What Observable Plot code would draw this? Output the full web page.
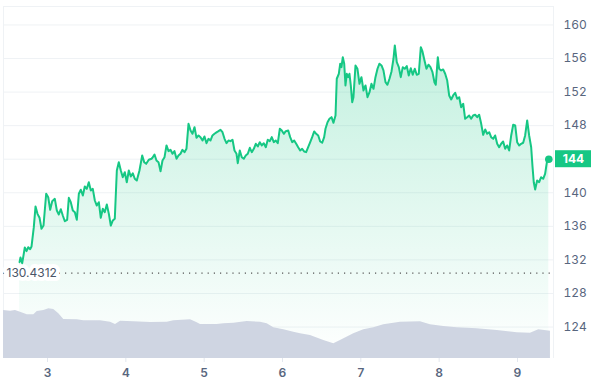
<!DOCTYPE html>
<html><head><meta charset="utf-8">
<script src="https://cdn.jsdelivr.net/npm/d3@7"></script>
<script src="https://cdn.jsdelivr.net/npm/@observablehq/plot@0.6"></script>
<style>
body{margin:0;background:#fff;}
#chart{position:relative;width:591px;height:379px;overflow:hidden;}
#chart svg{position:absolute;left:0;top:0;}
</style></head><body><div id="chart"></div>
<script>
// ---- data (x = day of month, y = price) ----
const priceDays = [
2.643,2.655,2.677,2.710,2.732,2.754,2.779,2.796,2.825,2.847,
2.872,2.898,2.923,2.949,2.983,3.009,3.034,3.060,3.093,3.119,
3.144,3.170,3.195,3.221,3.251,3.272,3.297,3.323,3.349,3.374,
3.400,3.425,3.451,3.476,3.502,3.527,3.553,3.578,3.604,3.629,
3.655,3.680,3.706,3.731,3.757,3.783,3.808,3.834,3.859,3.885,
3.910,3.936,3.961,3.987,4.012,4.038,4.063,4.089,4.114,4.140,
4.174,4.209,4.234,4.260,4.293,4.328,4.340,4.366,4.391,4.417,
4.443,4.468,4.494,4.519,4.545,4.570,4.596,4.621,4.647,4.672,
4.698,4.723,4.749,4.774,4.800,4.826,4.851,4.877,4.902,4.928,
4.953,4.979,5.004,5.030,5.055,5.081,5.106,5.132,5.157,5.183,
5.209,5.234,5.260,5.285,5.311,5.336,5.362,5.387,5.413,5.429,
5.455,5.480,5.506,5.531,5.557,5.583,5.608,5.634,5.659,5.685,
5.710,5.736,5.761,5.787,5.812,5.838,5.863,5.889,5.914,5.940,
5.966,5.991,6.017,6.042,6.073,6.098,6.124,6.149,6.175,6.200,
6.226,6.251,6.277,6.302,6.328,6.354,6.379,6.405,6.430,6.456,
6.481,6.507,6.532,6.549,6.575,6.600,6.626,6.651,6.677,6.693,
6.719,6.737,6.753,6.770,6.788,6.804,6.821,6.839,6.855,6.872,
6.890,6.906,6.932,6.957,6.983,7.008,7.034,7.060,7.085,7.111,
7.136,7.162,7.187,7.213,7.238,7.264,7.289,7.315,7.340,7.366,
7.392,7.417,7.434,7.459,7.485,7.510,7.536,7.561,7.587,7.612,
7.638,7.663,7.689,7.714,7.740,7.766,7.787,7.813,7.838,7.864,
7.889,7.915,7.940,7.957,7.983,8.000,8.026,8.051,8.077,8.103,
8.128,8.154,8.179,8.205,8.230,8.256,8.281,8.307,8.332,8.358,
8.383,8.409,8.434,8.460,8.486,8.511,8.537,8.562,8.588,8.613,
8.639,8.664,8.690,8.715,8.741,8.766,8.792,8.817,8.843,8.868,
8.894,8.920,8.945,8.971,8.996,9.022,9.047,9.073,9.098,9.124,
9.149,9.175,9.191,9.208,9.226,9.251,9.277,9.302,9.328,9.353,
9.379,9.400];
const prices = [
131.73,132.29,131.61,133.48,133.04,133.51,133.28,133.60,135.90,138.37,
137.49,137.02,135.71,136.10,139.88,139.47,137.97,139.00,139.28,137.89,
137.41,138.04,137.29,136.61,136.78,139.40,138.88,137.89,137.69,136.78,
139.88,140.36,139.68,140.75,140.47,141.26,140.27,140.47,139.08,138.48,
138.88,137.02,138.09,137.69,138.60,137.49,136.10,136.70,136.90,142.66,
143.65,142.66,141.86,142.45,141.26,142.66,141.94,142.33,141.67,141.46,
142.66,144.44,143.65,143.45,143.93,144.05,144.17,144.56,143.85,143.65,
142.57,143.85,144.24,145.64,144.96,145.12,144.65,144.96,144.05,144.44,
144.65,145.12,144.84,145.24,148.22,147.42,147.03,147.82,146.55,146.83,
146.63,146.23,146.71,145.91,146.43,146.23,146.83,147.03,147.19,147.34,
147.51,147.22,146.43,145.91,146.23,146.15,146.32,145.04,144.65,143.53,
145.04,144.24,144.05,144.44,144.65,145.36,144.84,145.24,145.84,145.52,
146.03,145.64,145.91,145.43,146.32,146.15,146.63,146.03,146.23,145.91,
147.63,147.42,147.03,147.34,147.42,146.63,146.03,146.23,145.84,145.43,
145.04,145.24,144.92,144.84,145.43,146.03,146.63,147.31,147.03,146.83,
146.11,145.96,146.63,147.63,148.41,148.82,149.01,148.34,149.21,153.59,
154.18,155.38,154.97,156.16,155.38,152.79,154.18,153.78,154.18,152.79,
150.80,151.39,155.17,154.78,152.99,153.78,152.19,152.79,151.39,151.99,
152.99,152.39,153.78,154.78,155.38,155.17,154.58,153.18,152.87,153.59,
154.46,155.97,157.56,155.57,154.97,153.78,154.97,154.78,155.09,153.98,
154.85,154.06,154.78,154.06,154.18,157.35,156.84,155.77,154.78,155.26,
154.97,154.37,153.18,152.87,156.16,154.78,154.58,154.70,154.18,153.38,
151.60,151.12,151.60,151.92,151.20,151.39,150.20,150.61,148.82,149.01,
149.21,148.82,149.21,149.30,149.01,149.30,148.22,146.91,147.54,147.03,
147.22,146.63,146.43,146.83,145.84,145.43,145.84,146.11,145.24,145.64,
145.04,146.83,148.10,148.02,146.03,145.64,145.84,145.96,146.83,148.62,
146.83,145.43,143.25,141.26,140.39,141.46,141.26,141.86,141.67,142.26,
143.85,144.00];

const volDays = [2.422,2.528,2.591,2.655,2.741,2.825,2.869,2.953,3.017,3.080,
3.144,3.208,3.379,3.463,3.677,3.804,3.868,3.932,4.102,4.315,
4.528,4.612,4.826,4.911,4.953,5.166,5.251,5.378,5.549,5.719,
5.804,5.889,6.017,6.144,6.230,6.357,6.527,6.655,6.740,6.910,
7.038,7.166,7.293,7.506,7.762,7.889,8.059,8.230,8.486,8.741,
8.996,9.166,9.272,9.421];
const volumes = [480,473,480,463,437,437,470,480,497,490,
447,390,387,377,377,363,340,373,367,360,
363,377,387,357,340,340,347,353,370,363,
347,307,287,263,247,230,180,147,180,247,
287,307,337,363,367,337,320,307,297,280,
257,253,287,273];

const xTicks = [3,4,5,6,7,8,9];
const gridTicks = [124,128,132,136,140,144,148,152,156,160];
const yLabelTicks = [124,128,132,136,140,148,152,156,160];
const refPrice = 130.4312;
const refLabel = "130.4312";

// ---- layout ----
const W = 591, H = 379;
const xDomain = [2.438, 9.46];
const yDomain = [120.25, 162.2];
const volDomain = [0, 700];
const green = "#16c784";
const gridColor = "#eff2f5";
const textColor = "#58667e";
const font = "Inter, 'Noto Sans', sans-serif";

const price = priceDays.map((d, i) => ({day: d, price: prices[i]}));
const vol = volDays.map((d, i) => ({day: d, vol: volumes[i]}));
const last = price[price.length - 1];

// badge (green box behind last price label), positioned via the plot's y scale
const badgeMark = (index, scales, values, dims) => {
  const y = scales.y(last.price);
  const x0 = dims.width - dims.marginRight + 2;
  return d3.create("svg:rect")
    .attr("x", x0).attr("y", y - 8.5)
    .attr("width", dims.width - x0).attr("height", 17)
    .attr("fill", green).node();
};

const main = Plot.plot({
  width: W, height: H,
  marginTop: 6, marginBottom: 21, marginLeft: 3, marginRight: 38,
  x: {domain: xDomain, label: null},
  y: {domain: yDomain, label: null},
  style: {fontFamily: font, fontSize: "12px", background: "transparent"},
  marks: [
    () => {
      const defs = d3.create("svg:defs");
      const g = defs.append("linearGradient").attr("id", "priceGrad")
        .attr("x1", 0).attr("x2", 0).attr("y1", 0).attr("y2", 1);
      g.append("stop").attr("offset", "0%").attr("stop-color", green).attr("stop-opacity", 0.26);
      g.append("stop").attr("offset", "100%").attr("stop-color", green).attr("stop-opacity", 0);
      return defs.node();
    },
    Plot.ruleY(gridTicks, {stroke: gridColor}),
    Plot.ruleY([yDomain[1]], {stroke: gridColor}),
    Plot.ruleX(xDomain, {stroke: gridColor}),
    Plot.areaY(price, {x: "day", y1: yDomain[0], y2: "price", fill: "url(#priceGrad)"}),
    Plot.ruleY([refPrice], {stroke: "#555", strokeWidth: 1.2, strokeDasharray: "1.2,5"}),
    Plot.text([refPrice], {y: d => d, frameAnchor: "left", dx: 3, textAnchor: "start",
      text: () => refLabel, fill: "#4a5568", stroke: "white", strokeWidth: 8, paintOrder: "stroke", fontSize: 12}),
    Plot.lineY(price, {x: "day", y: "price", stroke: green, strokeWidth: 2}),
    Plot.dot([last], {x: "day", y: "price", r: 3.8, fill: green}),
    Plot.axisY({anchor: "right", ticks: yLabelTicks, tickSize: 0, tickPadding: 10, fill: textColor, label: null, tickFormat: d => String(d)}),
    Plot.axisX({ticks: xTicks, tickSize: 4, tickPadding: 6, stroke: "#e3e7ee", fill: textColor, fontWeight: 600, label: null, tickFormat: d => String(d)}),
    badgeMark,
    Plot.text([last], {x: () => xDomain[1], y: "price", dx: 20, text: d => d.price.toFixed(0),
      fill: "white", fontWeight: "bold", fontSize: 12})
  ]
});

const volume = Plot.plot({
  width: W, height: H,
  marginTop: 288, marginBottom: 21, marginLeft: 3, marginRight: 38,
  x: {domain: xDomain, axis: null},
  y: {domain: volDomain, axis: null},
  style: {background: "transparent"},
  marks: [
    Plot.areaY(vol, {x: "day", y: "vol", fill: "#cfd5e2", clip: true})
  ]
});

const host = document.getElementById("chart");
host.appendChild(main);
host.appendChild(volume);
</script></body></html>
